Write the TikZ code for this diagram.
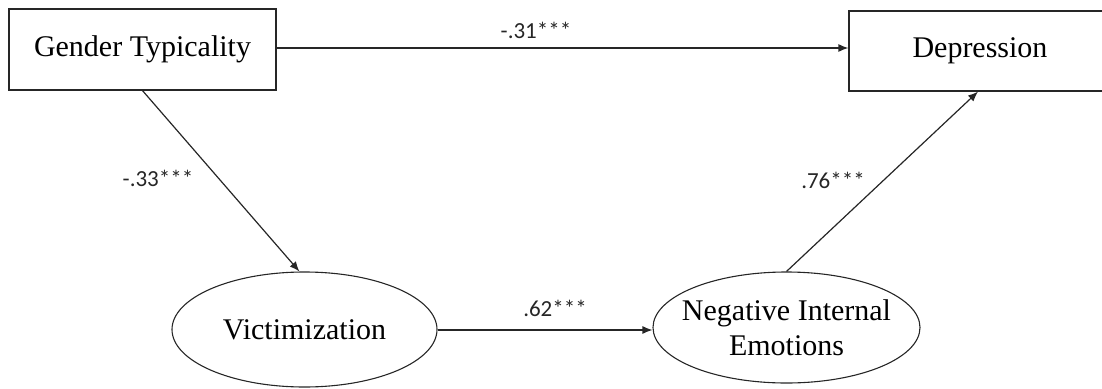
\documentclass[tikz,border=0pt]{standalone}
\usepackage{fontspec}
\setmainfont{Liberation Serif}
\newfontfamily\labelfont{Carlito}
\usetikzlibrary{shapes.geometric,arrows.meta}

\tikzset{
  varbox/.style={draw=black!85, line width=1.2pt, rectangle, inner sep=0pt,
    font=\fontsize{30}{35}\selectfont},
  varoval/.style={draw=black!85, line width=1.1pt, ellipse, inner xsep=-16pt, inner ysep=0pt,
    align=center, font=\fontsize{30}{35}\selectfont},
  path/.style={draw=black!85, line width=1.2pt, -{Latex[length=10pt,width=8pt]}},
  coef/.style={font=\labelfont\fontsize{23}{26}\selectfont, text=black!85, inner sep=0pt}
}

\begin{document}
\begin{tikzpicture}[x=1pt,y=-1pt]
  \useasboundingbox (0,0) rectangle (1102,388);
  \begin{scope}
    \clip (0,0) rectangle (1102,388);

    % observed variables
    \node[varbox, minimum width=267pt, minimum height=81pt] (gt) at (142.5,49.5) {Gender Typicality};
    \node[varbox, minimum width=262pt, minimum height=80pt] (dep) at (980,51) {Depression};

    % latent variables
    \node[varoval, minimum width=265pt, minimum height=115pt] (vic) at (304.5,329.5) {Victimization};
    \node[varoval, minimum width=267pt, minimum height=111pt] (nie) at (786.5,327.5) {Negative Internal\\Emotions};

    % structural paths
    \draw[path] (gt.east |- 0,48) -- (dep.west |- 0,48);
    \draw[path] (gt.south) -- (vic.95);
    \draw[path] (vic.east |- 0,330) -- (nie.west |- 0,330);
    \draw[path] (nie.north) -- ([xshift=-2pt]dep.south);

    % path coefficients
    \node[coef] (c1) at (536,30) {-.31***};
    \node[coef] (c2) at (158,178) {-.33***};
    \node[coef] (c3) at (555,308) {.62***};
    \node[coef] (c4) at (833,180) {.76***};
  \end{scope}
\end{tikzpicture}
\end{document}
